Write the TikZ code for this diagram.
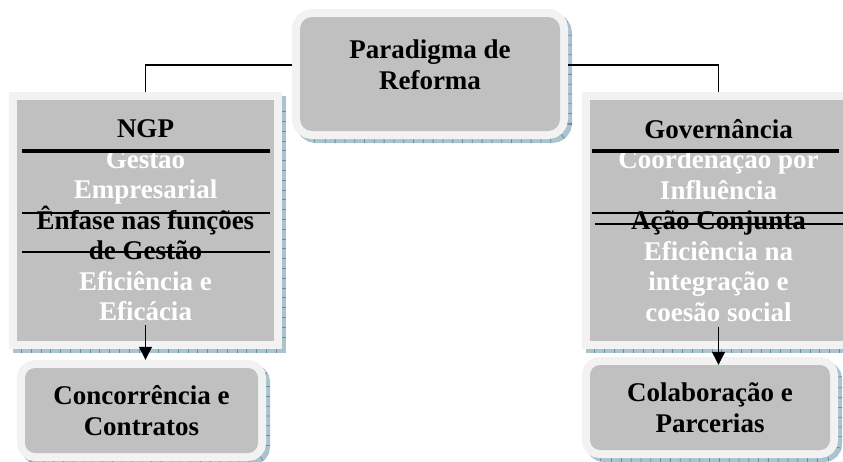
\documentclass[tikz,border=0pt]{standalone}
\usepackage{fontspec}
\setmainfont{Liberation Serif}
\usetikzlibrary{arrows.meta,positioning}
\definecolor{boxgray}{RGB}{192,192,192}
\definecolor{framegray}{RGB}{242,242,242}
\definecolor{shadeblue}{RGB}{170,196,207}
\definecolor{shadetick}{RGB}{110,142,158}

\begin{document}
\begin{tikzpicture}[x=1pt,y=-1pt,
  txt/.style={font=\bfseries\fontsize{27}{30.5}\selectfont,align=center,inner sep=0pt},
  framed/.style={fill=boxgray,inner sep=0pt,
    preaction={draw=shadeblue,line width=16pt,transform canvas={shift={(4pt,-4pt)}}},
    preaction={draw=shadetick,line width=16pt,dash pattern=on 0.8pt off 9pt,
      transform canvas={shift={(4pt,-4pt)}}},
    preaction={draw=framegray,line width=16pt}},
  link/.style={line width=1.2pt},
  strikethick/.style={line width=4pt},
  strikethin/.style={line width=1.2pt}]

  \useasboundingbox (0,0) rectangle (843,461);

  % top box
  \node[framed,rounded corners=12pt,minimum width=260pt,minimum height=114pt] (reform) at (430,74) {};
  \node[txt] (reformtext) at ([yshift=9pt]reform.center) {Paradigma de\\Reforma};

  % middle boxes
  \node[framed,txt,minimum width=257pt,minimum height=241pt] (ngp) at (145.5,220.5)
    {NGP\\
     \textcolor{white}{Gestão}\\
     \textcolor{white}{Empresarial}\\
     Ênfase nas funções\\
     de Gestão\\
     \textcolor{white}{Eficiência e}\\
     \textcolor{white}{Eficácia}};

  \node[framed,txt,minimum width=257pt,minimum height=241pt] (gov) at (718.5,220.5)
    {Governância\\
     \textcolor{white}{Coordenação por}\\
     \textcolor{white}{Influência}\\
     Ação Conjunta\\
     \textcolor{white}{Eficiência na}\\
     \textcolor{white}{integração e}\\
     \textcolor{white}{coesão social}};

  % bottom boxes
  \node[framed,txt,rounded corners=10pt,minimum width=233pt,minimum height=85pt] (conc) at (141.5,410.5)
    {Concorrência e\\Contratos};
  \node[framed,txt,rounded corners=10pt,minimum width=240pt,minimum height=85pt] (colab) at (710,407.5)
    {Colaboração e\\Parcerias};

  % strike lines
  \draw[strikethick] (22,151) -- (270,151);
  \draw[strikethin] (22,213) -- (270,213);
  \draw[strikethin] (22,252) -- (270,252);
  \draw[strikethick] (592,151) -- (839,151);
  \draw[strikethin] (592,213) -- (843,213);
  \draw[strikethin] (595,224) -- (843,224);

  % connectors
  \draw[link,shorten <=8pt,shorten >=8pt] ([yshift=9pt]reform.west) -| (ngp.north);
  \draw[link,shorten <=8pt,shorten >=8pt] ([yshift=9pt]reform.east) -| (gov.north);
  \draw[link,-{Triangle[width=13pt,length=13pt]},shorten >=8pt]
    ([yshift=16pt]ngp.south) -- (ngp.south |- conc.north);
  \draw[link,-{Triangle[width=13pt,length=13pt]}]
    ([yshift=14pt]gov.south) -- (gov.south |- colab.north);
\end{tikzpicture}
\end{document}
